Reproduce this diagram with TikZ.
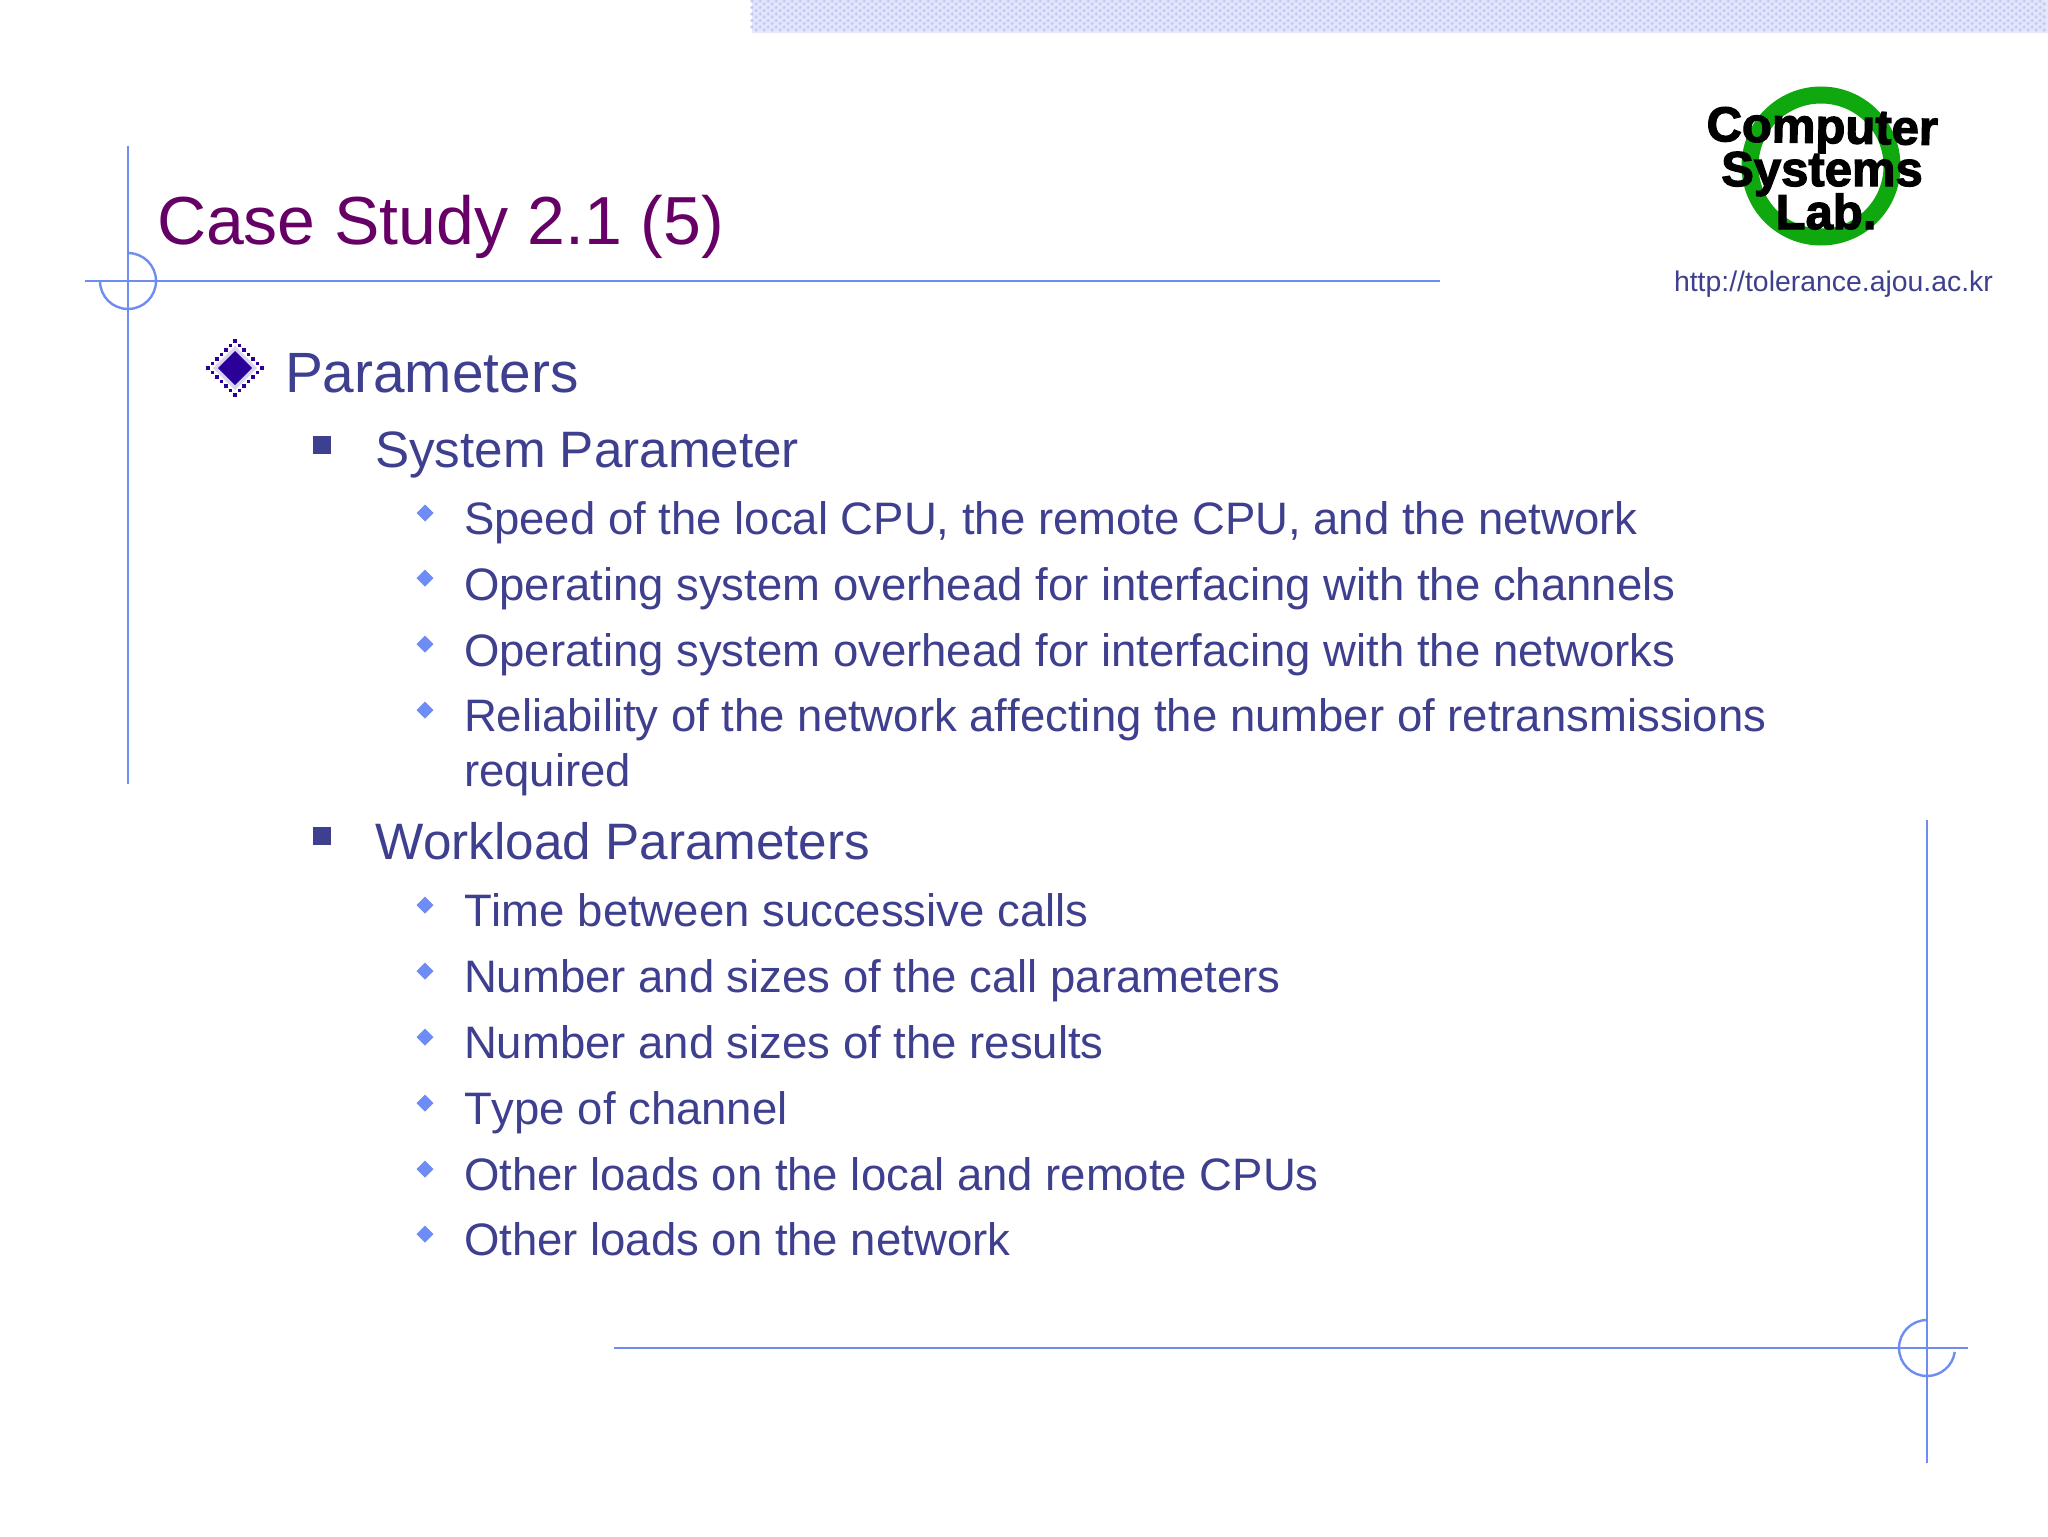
\documentclass[tikz,border=0pt]{standalone}
\usepackage{fontspec}
\setmainfont[Kerning=Off]{Liberation Sans}
\newfontfamily\logofont[BoldFeatures={FakeBold=2.5}]{Liberation Sans}
\usetikzlibrary{shapes.geometric}
\definecolor{titlec}{HTML}{660066}
\definecolor{textc}{HTML}{3F3F8F}
\definecolor{linec}{HTML}{6F8DF0}
\definecolor{bulletc}{HTML}{6E8CF5}
\definecolor{bigc}{HTML}{2A0099}
\definecolor{bigl}{HTML}{D8D4F2}
\definecolor{bandc}{HTML}{E4E8FA}
\definecolor{banddot}{HTML}{C4CEF6}
\definecolor{ringc}{HTML}{0FA80F}
\tikzset{
  x=0.5pt,y=-0.5pt,
  rule/.style={draw=linec,line width=1.2pt},
  txt/.style={anchor=base west,inner sep=0pt,outer sep=0pt,text=textc},
  titletxt/.style={txt,text=titlec,font=\fontsize{34}{40}\selectfont},
  lone/.style={txt,font=\fontsize{28.4}{34}\selectfont},
  ltwo/.style={txt,font=\fontsize{25.6}{30}\selectfont},
  lthree/.style={txt,font=\fontsize{22.75}{27}\selectfont},
  urltxt/.style={txt,font=\fontsize{14.2}{17}\selectfont},
  logotxt/.style={anchor=base,inner sep=0pt,text=black,font=\logofont\fontsize{24.5}{26}\bfseries\selectfont},
  sq/.style={fill=textc},
  dm/.style={fill=bulletc},
}
\newcommand{\smalld}[1]{\fill[dm] (425,#1) ++(0,-8.5) -- ++(8.5,8.5) -- ++(-8.5,8.5) -- ++(-8.5,-8.5) -- cycle;}
\begin{document}
\begin{tikzpicture}
\useasboundingbox (0,0) rectangle (2048,1536);
\fill[white] (0,0) rectangle (2048,1536);
% top band
\fill[bandc] (752,0) rectangle (2048,33);
\fill[banddot]
 \foreach \i in {0,...,161}{ \foreach \j in {0,...,4}{
   (752+8*\i,1+6.5*\j) ++(0,-2) -- ++(2,2) -- ++(-2,2) -- ++(-2,-2) -- cycle
   (756+8*\i,4+6.5*\j) ++(0,-2) -- ++(2,2) -- ++(-2,2) -- ++(-2,-2) -- cycle
 }};
% frame
\coordinate (v1a) at (128,146); \coordinate (v1b) at (128,784);
\coordinate (h1a) at (85,281); \coordinate (h1b) at (1440,281);
\coordinate (v2a) at (1927,820); \coordinate (v2b) at (1927,1463);
\coordinate (h2a) at (614,1348); \coordinate (h2b) at (1968,1348);
\draw[rule] (v1a) -- (v1b);
\draw[rule] (h1a) -- (h1b);
\draw[rule] (v2a) -- (v2b);
\draw[rule] (h2a) -- (h2b);
\draw[rule] (128,253) arc[start angle=-90,end angle=180,radius=28];
\draw[rule] (1927,1320) arc[start angle=-90,end angle=-352,radius=28];
% title
\node[titletxt] (title) at (157,244) {Case Study 2.1 (5)};
% logo
\draw[ringc,line width=8.5pt] (1821,166) circle[radius=71];
\node[logotxt,rotate=-1] (logo1) at (1822,143) {Computer};
\node[logotxt] (logo2) at (1822,186) {Systems};
\node[logotxt] (logo3) at (1826,229) {Lab.};
\node[urltxt] (url) at (1674,291) {http://tolerance.ajou.ac.kr};
% bullets
\fill[bigl] (235,346) -- (257,368) -- (235,390) -- (213,368) -- cycle;
\fill[bigc] (235,351) -- (252,368) -- (235,385) -- (218,368) -- cycle;
\foreach \k in {0,...,6}{
  \fill[bigc] (235+\k*4.5-1.9,341+\k*4.5-1.9) rectangle ++(3.8,3.8);
  \fill[bigc] (235-\k*4.5-1.9,341+\k*4.5-1.9) rectangle ++(3.8,3.8);
  \fill[bigc] (235+\k*4.5-1.9,395-\k*4.5-1.9) rectangle ++(3.8,3.8);
  \fill[bigc] (235-\k*4.5-1.9,395-\k*4.5-1.9) rectangle ++(3.8,3.8);
}
\fill[sq] (313,436) rectangle (331,454);
\fill[sq] (313,827) rectangle (331,845);
\smalld{513}\smalld{578}\smalld{644}\smalld{710}
\smalld{905}\smalld{971}\smalld{1037}\smalld{1103}\smalld{1169}\smalld{1234}
% text
\node[lone] (p) at (285,392) {Parameters};
\node[ltwo] (s) at (375,467) {System Parameter};
\node[lthree] (s1) at (464,534) {Speed of the local CPU, the remote CPU, and the network};
\node[lthree] (s2) at (464,600) {Operating system overhead for interfacing with the channels};
\node[lthree] (s3) at (464,666) {Operating system overhead for interfacing with the networks};
\node[lthree] (s4) at (464,731) {Reliability of the network affecting the number of retransmissions};
\node[lthree] (s5) at (464,786) {required};
\node[ltwo] (w) at (375,859) {Workload Parameters};
\node[lthree] (w1) at (464,926) {Time between successive calls};
\node[lthree] (w2) at (464,992) {Number and sizes of the call parameters};
\node[lthree] (w3) at (464,1058) {Number and sizes of the results};
\node[lthree] (w4) at (464,1124) {Type of channel};
\node[lthree] (w5) at (464,1190) {Other loads on the local and remote CPUs};
\node[lthree] (w6) at (464,1255) {Other loads on the network};
\end{tikzpicture}
\end{document}
